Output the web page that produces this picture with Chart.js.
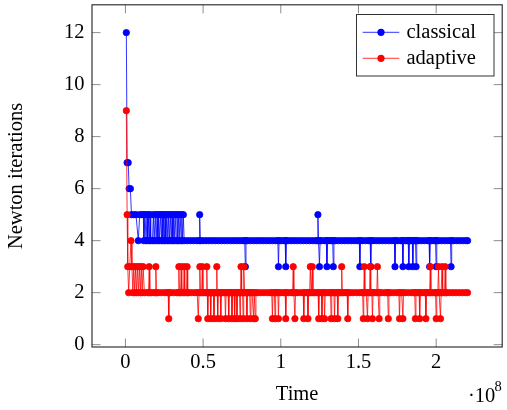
<!DOCTYPE html>
<html><head><meta charset="utf-8">
<script src="https://cdn.jsdelivr.net/npm/chart.js@4"></script>
<style>html,body{margin:0;padding:0;background:#fff}</style>
</head><body>
<canvas id="c" width="507" height="410"></canvas>
<script>
// time in units of 10^6
const classicalTime = [
 0.6, 1.1, 1.8, 2.4, 3.2, 3.9, 5.3, 6.8, 8.3, 9.2,
 10.4, 11.5, 11.9, 12.6, 13.3, 13.9, 14.4, 15.0, 15.5, 15.9,
 16.3, 17.4, 18.0, 18.5, 19.2, 19.8, 20.4, 20.9, 21.4, 21.9,
 22.6, 23.2, 23.6, 24.1, 24.6, 25.1, 25.5, 26.0, 26.7, 27.3,
 27.8, 28.3, 28.9, 29.5, 30.0, 30.5, 31.0, 31.4, 32.0, 32.7,
 33.2, 33.7, 34.1, 34.6, 35.2, 35.9, 36.3, 36.7, 37.3, 37.8,
 39.8, 41.8, 43.8, 45.8, 47.4, 47.8, 48.2, 49.8, 51.8, 53.8,
 55.8, 57.8, 59.8, 61.8, 63.8, 65.8, 67.8, 69.8, 71.8, 73.8,
 75.8, 76.8, 77.2, 77.6, 78.6, 80.6, 82.6, 84.6, 86.6, 88.6,
 90.6, 92.6, 94.6, 96.6, 98.1, 98.5, 98.9, 100.2, 102.0, 102.8,
 103.2, 103.6, 104.6, 106.6, 108.6, 110.6, 112.6, 114.6, 116.6, 118.6,
 120.6, 122.6, 123.5, 123.9, 124.3, 124.9, 125.3, 126.2, 128.2, 129.3,
 129.7, 130.1, 131.2, 132.6, 133.4, 133.8, 134.2, 135.2, 137.2, 139.2,
 141.2, 143.2, 145.2, 147.2, 149.2, 150.5, 150.9, 151.3, 152.6, 154.6,
 156.4, 157.5, 157.9, 158.3, 159.4, 161.4, 163.4, 165.4, 167.4, 169.4,
 171.4, 173.1, 173.5, 173.9, 175.2, 177.2, 178.2, 178.6, 179.0, 180.2,
 181.4, 182.0, 182.4, 182.8, 183.6, 184.6, 185.0, 185.4, 186.0, 186.7,
 187.1, 187.5, 188.4, 190.4, 192.4, 194.4, 195.4, 195.8, 196.2, 197.2,
 198.8, 199.6, 200.0, 200.4, 201.4, 203.4, 205.4, 207.4, 209.2, 209.6,
 210.0, 211.2, 213.2, 215.2, 217.2, 219.2, 220.2
];
const classicalIter = [
 12, 7, 7, 6, 6, 5, 5, 5, 4, 5,
 5, 5, 4, 5, 4, 5, 4, 5, 4, 5,
 4, 4, 5, 4, 5, 4, 5, 4, 5, 4,
 5, 4, 5, 4, 5, 4, 5, 4, 5, 4,
 5, 4, 5, 4, 5, 4, 5, 4, 5, 4,
 5, 4, 5, 4, 5, 4, 5, 4, 5, 4,
 4, 4, 4, 4, 4, 5, 4, 4, 4, 4,
 4, 4, 4, 4, 4, 4, 4, 4, 4, 4,
 4, 4, 3, 4, 4, 4, 4, 4, 4, 4,
 4, 4, 4, 4, 4, 3, 4, 4, 4, 4,
 3, 4, 4, 4, 4, 4, 4, 4, 4, 4,
 4, 4, 4, 5, 4, 3, 4, 4, 4, 4,
 3, 4, 4, 4, 4, 3, 4, 4, 4, 4,
 4, 4, 4, 4, 4, 4, 3, 4, 4, 4,
 4, 4, 3, 4, 4, 4, 4, 4, 4, 4,
 4, 4, 3, 4, 4, 4, 4, 3, 4, 4,
 4, 4, 3, 4, 4, 4, 3, 4, 4, 4,
 3, 4, 4, 4, 4, 4, 4, 3, 4, 4,
 4, 4, 3, 4, 4, 4, 4, 4, 4, 3,
 4, 4, 4, 4, 4, 4, 4
];
const adaptiveTime = [
 0.6, 1.1, 1.5, 2.1, 2.8, 3.6, 4.2, 4.8, 5.4, 6.0,
 6.6, 7.2, 7.8, 8.4, 9.0, 9.6, 10.2, 10.8, 11.4, 12.2,
 14.0, 14.9, 15.3, 15.7, 16.6, 18.3, 19.2, 19.6, 20.0, 21.0,
 23.0, 25.0, 26.8, 27.5, 27.9, 28.3, 29.0, 31.0, 33.0, 34.0,
 34.4, 34.8, 35.5, 35.9, 36.3, 37.4, 37.8, 38.2, 39.3, 39.7,
 40.1, 40.8, 42.8, 44.8, 46.2, 46.9, 47.4, 47.9, 48.3, 49.1,
 49.5, 49.9, 50.5, 51.5, 52.0, 52.4, 52.7, 53.0, 53.4, 54.0,
 54.5, 54.9, 55.3, 56.0, 56.6, 57.0, 57.4, 58.0, 58.5, 58.8,
 59.1, 59.4, 59.8, 60.4, 61.0, 61.4, 61.8, 62.8, 64.0, 64.4,
 64.8, 65.4, 66.1, 66.5, 66.9, 67.6, 68.2, 68.6, 69.0, 69.9,
 70.3, 70.7, 71.4, 71.8, 72.2, 72.8, 73.4, 73.8, 74.1, 74.4,
 74.8, 75.4, 75.8, 76.0, 76.3, 76.7, 77.2, 77.8, 78.2, 78.6,
 79.3, 80.0, 80.4, 80.8, 81.5, 82.1, 82.5, 82.9, 83.6, 84.0,
 85.2, 87.2, 89.2, 91.2, 93.2, 94.2, 94.6, 95.0, 95.9, 96.3,
 96.7, 97.4, 98.1, 98.5, 98.9, 100.0, 101.8, 102.8, 103.2, 103.6,
 104.8, 106.6, 107.6, 108.0, 108.4, 109.1, 109.5, 110.6, 112.6, 114.4,
 114.8, 115.2, 116.2, 117.1, 117.5, 117.9, 118.6, 119.0, 119.6, 120.3,
 120.7, 121.6, 123.2, 124.0, 124.4, 124.8, 126.1, 126.5, 126.9, 127.8,
 128.2, 128.6, 129.6, 131.2, 132.0, 132.4, 132.8, 133.5, 134.2, 134.6,
 135.0, 135.8, 136.3, 136.7, 137.1, 138.0, 138.8, 139.2, 139.6, 140.6,
 142.0, 142.7, 143.1, 143.5, 144.6, 146.6, 148.6, 150.6, 152.0, 152.7,
 153.1, 153.4, 153.7, 154.1, 155.0, 155.8, 156.2, 157.1, 157.5, 157.9,
 158.6, 159.0, 159.4, 160.6, 161.8, 162.2, 162.6, 163.0, 163.3, 163.7,
 164.8, 166.8, 168.2, 168.8, 169.2, 169.6, 170.6, 172.6, 174.6, 176.0,
 176.4, 176.8, 177.8, 178.6, 179.0, 180.2, 182.2, 184.2, 185.6, 186.2,
 186.6, 187.0, 188.0, 189.0, 189.4, 189.8, 190.8, 192.4, 193.0, 193.4,
 193.8, 194.8, 195.8, 196.2, 196.6, 197.6, 199.0, 199.6, 200.0, 200.4,
 201.1, 201.5, 201.9, 202.4, 202.8, 203.2, 203.8, 204.2, 205.4, 205.8,
 206.2, 206.8, 208.8, 210.8, 212.8, 214.8, 216.8, 218.8, 220.2
];
const adaptiveIter = [
 9, 5, 3, 2, 3, 4, 3, 2, 3, 2,
 3, 2, 3, 2, 3, 2, 3, 2, 3, 2,
 2, 2, 3, 2, 2, 2, 2, 3, 2, 2,
 2, 2, 2, 2, 1, 2, 2, 2, 2, 2,
 3, 2, 2, 3, 2, 2, 3, 2, 2, 3,
 2, 2, 2, 2, 2, 1, 2, 3, 2, 2,
 3, 2, 2, 2, 2, 3, 2, 1, 2, 2,
 2, 1, 2, 2, 2, 1, 2, 2, 2, 3,
 2, 1, 2, 2, 2, 1, 2, 2, 2, 1,
 2, 2, 2, 1, 2, 2, 2, 1, 2, 2,
 1, 2, 2, 1, 2, 2, 2, 1, 2, 3,
 2, 2, 1, 2, 3, 2, 2, 2, 1, 2,
 2, 2, 1, 2, 2, 2, 1, 2, 1, 2,
 2, 2, 2, 2, 2, 2, 1, 2, 2, 1,
 2, 2, 2, 1, 2, 2, 2, 2, 1, 2,
 2, 2, 2, 3, 2, 1, 2, 2, 2, 2,
 1, 2, 2, 2, 1, 2, 2, 3, 2, 3,
 2, 2, 2, 2, 1, 2, 2, 1, 2, 2,
 1, 2, 2, 2, 2, 1, 2, 2, 2, 1,
 2, 2, 2, 1, 2, 2, 2, 3, 2, 2,
 2, 2, 1, 2, 2, 2, 2, 2, 2, 2,
 1, 2, 3, 2, 2, 1, 2, 2, 3, 2,
 2, 1, 2, 2, 2, 3, 2, 2, 1, 2,
 2, 2, 2, 2, 1, 2, 2, 2, 2, 2,
 1, 2, 2, 1, 2, 2, 2, 2, 2, 2,
 1, 2, 2, 2, 1, 2, 2, 2, 2, 1,
 2, 2, 2, 3, 2, 2, 2, 2, 1, 2,
 2, 3, 2, 2, 1, 2, 3, 2, 2, 3,
 2, 2, 2, 2, 2, 2, 2, 2, 2
];
const seriesNames = ['classical', 'adaptive'];
const seriesColors = ['#0000ff', '#ff0000'];
const xTickValues = [0, 50, 100, 150, 200];
const xTickLabels = ['0', '0.5', '1', '1.5', '2'];
const yTickValues = [0, 2, 4, 6, 8, 10, 12];
const yTickLabels = ['0', '2', '4', '6', '8', '10', '12'];
const xTitle = 'Time';
const yTitle = 'Newton iterations';

const FONT = 'Liberation Serif';
const FS = 20.5;
const TL = 8.5;

function toPoints(ts, vs) { return ts.map((t, i) => ({x: t, y: vs[i]})); }

const frame = {
  id: 'frame',
  beforeDatasetsDraw(chart) {
    const {ctx, chartArea: a, scales: {x, y}} = chart;
    ctx.save();
    ctx.strokeStyle = '#808080';
    ctx.lineWidth = 0.9;
    ctx.beginPath();
    xTickValues.forEach(v => {
      const p = x.getPixelForValue(v);
      ctx.moveTo(p, a.bottom); ctx.lineTo(p, a.bottom - TL);
      ctx.moveTo(p, a.top); ctx.lineTo(p, a.top + TL);
    });
    yTickValues.forEach(v => {
      const p = y.getPixelForValue(v);
      ctx.moveTo(a.left, p); ctx.lineTo(a.left + TL, p);
      ctx.moveTo(a.right, p); ctx.lineTo(a.right - TL, p);
    });
    ctx.stroke();
    ctx.restore();
  },
  afterDraw(chart) {
    const {ctx, chartArea: a} = chart;
    ctx.save();
    ctx.strokeStyle = '#222';
    ctx.lineWidth = 1.1;
    ctx.strokeRect(a.left, a.top, a.right - a.left, a.bottom - a.top);
    // legend
    const lx = 356.5, ly = 14.5, lw = 137.5, lh = 61.5;
    ctx.fillStyle = '#fff';
    ctx.fillRect(lx, ly, lw, lh);
    ctx.strokeStyle = '#333';
    ctx.lineWidth = 1;
    ctx.strokeRect(lx, ly, lw, lh);
    seriesNames.forEach((name, i) => {
      const yy = 32.3 + i * 26;
      ctx.strokeStyle = seriesColors[i];
      ctx.lineWidth = 0.8;
      ctx.beginPath(); ctx.moveTo(362.7, yy); ctx.lineTo(399.3, yy); ctx.stroke();
      ctx.fillStyle = seriesColors[i];
      ctx.beginPath(); ctx.arc(381, yy, 3.6, 0, Math.PI * 2); ctx.fill();
      ctx.fillStyle = '#000';
      ctx.font = FS + 'px "' + FONT + '"';
      ctx.textBaseline = 'alphabetic';
      ctx.textAlign = 'left';
      ctx.fillText(name, 406.5, 37.7 + i * 26);
    });
    // exponent
    ctx.fillStyle = '#000';
    ctx.font = FS + 'px "' + FONT + '"';
    ctx.fillText('\u00b710', 468, 402);
    ctx.font = '14.5px "' + FONT + '"';
    ctx.fillText('8', 494.5, 390.5);
    ctx.restore();
  }
};

new Chart(document.getElementById('c'), {
  type: 'line',
  data: {
    datasets: [
      {label: seriesNames[0], data: toPoints(classicalTime, classicalIter), borderColor: seriesColors[0], backgroundColor: seriesColors[0],
       pointBackgroundColor: seriesColors[0], pointBorderColor: seriesColors[0], borderWidth: 0.8, pointRadius: 3.2, pointBorderWidth: 0.8, tension: 0, order: 1},
      {label: seriesNames[1], data: toPoints(adaptiveTime, adaptiveIter), borderColor: seriesColors[1], backgroundColor: seriesColors[1],
       pointBackgroundColor: seriesColors[1], pointBorderColor: seriesColors[1], borderWidth: 0.8, pointRadius: 3.2, pointBorderWidth: 0.8, tension: 0, order: 0}
    ]
  },
  options: {
    responsive: false,
    animation: false,
    devicePixelRatio: 1,
    events: [],
    layout: {padding: {top: 4, right: 1, left: 0, bottom: 0}},
    plugins: {legend: {display: false}, tooltip: {enabled: false}},
    scales: {
      x: {
        type: 'linear', min: -21.5, max: 242.5,
        afterBuildTicks: s => { s.ticks = xTickValues.map(v => ({value: v})); },
        afterFit: s => { s.height = 63; s.paddingLeft = 0; s.paddingRight = 0; },
        ticks: {callback: (v, i) => xTickLabels[i], font: {family: FONT, size: FS}, color: '#000', padding: 3.5, maxRotation: 0, autoSkip: false},
        grid: {display: false, drawTicks: false},
        border: {display: false},
        title: {display: true, text: xTitle, font: {family: FONT, size: FS}, color: '#000', padding: {top: 0, bottom: 2.7}}
      },
      y: {
        type: 'linear', min: -0.09, max: 13.07,
        afterBuildTicks: s => { s.ticks = yTickValues.map(v => ({value: v})); },
        afterFit: s => { s.width = 92; s.paddingTop = 0; s.paddingBottom = 0; },
        ticks: {callback: (v, i) => yTickLabels[i], font: {family: FONT, size: FS}, color: '#000', padding: 7.5, autoSkip: false},
        grid: {display: false, drawTicks: false},
        border: {display: false},
        title: {display: true, text: yTitle, font: {family: FONT, size: FS}, color: '#000', padding: {top: 4.7, bottom: 0}}
      }
    }
  },
  plugins: [frame]
});
</script>
</body></html>
